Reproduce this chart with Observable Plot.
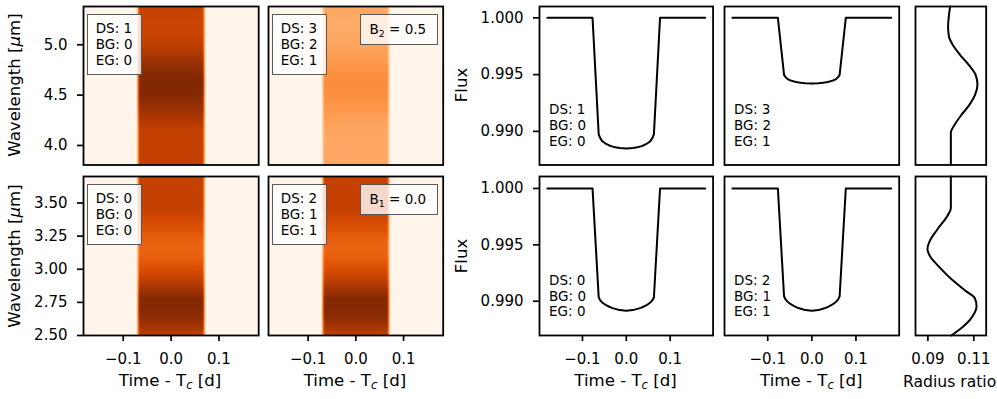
<!DOCTYPE html>
<html><head><meta charset="utf-8">
<script src="https://cdn.jsdelivr.net/npm/d3@7"></script>
<script src="https://cdn.jsdelivr.net/npm/@observablehq/plot@0.6"></script>
<style>
body{margin:0;background:#fff;}
#fig{position:relative;width:997px;height:399px;overflow:hidden;background:#fff;font-family:"DejaVu Sans",sans-serif;color:#000;}
.lab{position:absolute;font-size:16.6px;line-height:20px;white-space:nowrap;}
.lab sub{font-size:70%;line-height:0;vertical-align:-0.3em;}
.rot{transform:translate(-50%,-50%) rotate(-90deg);}
.box{position:absolute;box-sizing:border-box;border:1.5px solid rgba(50,50,50,0.8);background:rgba(255,255,255,0.8);font-size:13.5px;line-height:16px;white-space:pre;}
.box sub{font-size:70%;line-height:0;vertical-align:-0.3em;}
</style></head><body><div id="fig"></div>
<script>
// ---------- data ----------
const timeTicks = [-0.1, 0.0, 0.1];
const waveTicksTop = [4.0, 4.5, 5.0];
const waveTicksBottom = [2.50, 2.75, 3.00, 3.25, 3.50];
const fluxTicks = [0.990, 0.995, 1.000];
const radiusTicks = [0.09, 0.11];

// radius-ratio spectra (right column)
const waveTop = [3.81, 4.13, 4.20, 4.30, 4.40, 4.50, 4.60, 4.70, 4.80, 4.90, 5.00, 5.08, 5.18, 5.28, 5.38];
const radiusTop = [0.1000, 0.1000, 0.1015, 0.1045, 0.1080, 0.1105, 0.1116, 0.1108, 0.1078, 0.1040, 0.1008, 0.0992, 0.0988, 0.0991, 0.0997];
const waveBottom = [2.50, 2.56, 2.64, 2.72, 2.78, 2.84, 2.92, 3.02, 3.09, 3.15, 3.22, 3.30, 3.40, 3.46, 3.70];
const radiusBottom = [0.1002, 0.1049, 0.1093, 0.1112, 0.1105, 0.1062, 0.1006, 0.0948, 0.0912, 0.0898, 0.0910, 0.0941, 0.0984, 0.1000, 0.1000];

// in-transit band of the spectral time series (fraction of full depth)
const bandTime = [-0.19, -0.073, -0.066, 0.066, 0.073, 0.19];
const bandFrac = [0, 0, 1, 1, 0, 0];
// depth scaling of each heat map: top-left, top-middle, bottom-left, bottom-middle
const heatScale = [1, 0.5, 1, 1];

// white-light transit curves
const lcTime = [-0.18, -0.077, -0.063, -0.060, -0.055, -0.050, -0.045, -0.040, -0.033, -0.025, -0.015, 0.0, 0.015, 0.025, 0.033, 0.040, 0.045, 0.050, 0.055, 0.060, 0.063, 0.077, 0.18];
const fluxDS1 = [1, 1, 0.98976, 0.98945, 0.98914, 0.98900, 0.98888, 0.98878, 0.98868, 0.98860, 0.98854, 0.98850, 0.98854, 0.98860, 0.98868, 0.98878, 0.98888, 0.98900, 0.98914, 0.98945, 0.98976, 1, 1];
const fluxDS3 = [1, 1, 0.99498, 0.99480, 0.99461, 0.99451, 0.99445, 0.99439, 0.99433, 0.99428, 0.99424, 0.99422, 0.99424, 0.99428, 0.99433, 0.99439, 0.99445, 0.99451, 0.99461, 0.99480, 0.99498, 1, 1];
const fluxDS0 = [1, 1, 0.99035, 0.99011, 0.98989, 0.98975, 0.98963, 0.98953, 0.98941, 0.98932, 0.98921, 0.98915, 0.98921, 0.98932, 0.98941, 0.98953, 0.98963, 0.98975, 0.98989, 0.99011, 0.99035, 1, 1];
const fluxDS2 = [1, 1, 0.99044, 0.99018, 0.98995, 0.98980, 0.98967, 0.98956, 0.98943, 0.98933, 0.98921, 0.98915, 0.98921, 0.98933, 0.98943, 0.98956, 0.98967, 0.98980, 0.98995, 0.99018, 0.99044, 1, 1];

const panelLabels = ["DS: 1\nBG: 0\nEG: 0", "DS: 3\nBG: 2\nEG: 1", "DS: 0\nBG: 0\nEG: 0", "DS: 2\nBG: 1\nEG: 1"];
const bSubs = ["2", "1"];
const bValues = ["0.5", "0.0"];

// ---------- layout ----------
const fig = document.getElementById("fig");
const ML = 62, MR = 8, MT = 6, MB = 42;
const cols = [
  {left: 82.5, w: 175.2}, {left: 267.6, w: 174.7},
  {left: 538.7, w: 173.6}, {left: 724.0, w: 174.7},
  {left: 915.0, w: 70.7}
];
const rows = [{top: 6, h: 158.5}, {top: 176, h: 159}];
const heatX = [-0.183, 0.183], fluxX = [-0.198, 0.198], radX = [0.0846, 0.1154];
const waveDom = [[3.806, 5.38], [2.5, 3.70]];
const fluxDom = [[0.98704, 1.0010], [0.98696, 1.00106]];

function panel(c, r, {xDomain, yDomain, xTicks, xFmt, yTicks, yFmt, marks, color}) {
  const m = [...marks];
  if (xTicks) m.push(Plot.axisX(xTicks, {tickSize: 6, tickPadding: 12, strokeWidth: 1.7, tickFormat: xFmt, label: null, fontSize: 15}));
  if (yTicks) m.push(Plot.axisY(yTicks, {tickSize: 6, tickPadding: 10, strokeWidth: 1.7, tickFormat: yFmt, label: null, fontSize: 15}));
  m.push(Plot.frame({stroke: "black", strokeWidth: 1.8}));
  const opts = {
    width: c.w + ML + MR, height: r.h + MT + MB,
    marginLeft: ML, marginRight: MR, marginTop: MT, marginBottom: MB,
    x: xTicks ? {domain: xDomain} : {domain: xDomain, axis: null},
    y: yTicks ? {domain: yDomain} : {domain: yDomain, axis: null},
    style: {fontFamily: "DejaVu Sans", fontSize: "15px", background: "transparent", overflow: "visible"},
    marks: m
  };
  if (color) opts.color = color;
  const p = Plot.plot(opts);
  p.style.position = "absolute";
  p.style.left = (c.left - ML) + "px";
  p.style.top = (r.top - MT) + "px";
  fig.appendChild(p);
}

function heatData(waves, radii, scale) {
  return d3.cross(waves.map((w, i) => [w, radii[i]]), bandTime.map((t, j) => [t, bandFrac[j]]))
    .map(([[w, rr], [t, f]]) => ({t, w, v: f * rr * rr * scale}));
}
const heatColor = {type: "linear", scheme: "oranges", domain: [0, 0.0125]};

// heat maps
const profiles = [[waveTop, radiusTop], [waveBottom, radiusBottom]];
[0, 1].forEach(ri => {
  [0, 1].forEach(ci => {
    const k = ri * 2 + ci;
    const [wv, rd] = profiles[ri];
    panel(cols[ci], rows[ri], {
      xDomain: heatX, yDomain: waveDom[ri],
      xTicks: ri === 1 ? timeTicks : null, xFmt: d3.format(".1f"),
      yTicks: ci === 0 ? (ri === 0 ? waveTicksTop : waveTicksBottom) : null,
      yFmt: d3.format(ri === 0 ? ".1f" : ".2f"),
      color: heatColor,
      marks: [Plot.raster(heatData(wv, rd, heatScale[k]), {x: "t", y: "w", fill: "v", interpolate: "barycentric"})]
    });
    // annotation boxes
    const c = cols[ci], r = rows[ri];
    const b = document.createElement("div");
    b.className = "box";
    b.style.left = (c.left + 4.2) + "px"; b.style.top = (r.top + 8.2) + "px";
    b.style.width = "55.6px"; b.style.height = "61.3px";
    b.style.padding = "5.3px 0 0 8px";
    b.textContent = panelLabels[k];
    fig.appendChild(b);
    if (ci === 1) {
      const bb = document.createElement("div");
      bb.className = "box";
      bb.style.left = (c.left + c.w - 4.6 - 77.7) + "px"; bb.style.top = (r.top + 8.2) + "px";
      bb.style.width = "77.7px"; bb.style.height = "31px";
      bb.style.padding = "6px 0 0 8.5px";
      bb.innerHTML = "B<sub>" + bSubs[ri] + "</sub> = " + bValues[ri];
      fig.appendChild(bb);
    }
  });
});

// light curves
const fluxes = [[fluxDS1, fluxDS3], [fluxDS0, fluxDS2]];
const lcLabels = [[panelLabels[0], panelLabels[1]], [panelLabels[2], panelLabels[3]]];
[0, 1].forEach(ri => {
  [0, 1].forEach(ci => {
    const fl = fluxes[ri][ci];
    const pts = lcTime.map((t, i) => ({t, f: fl[i]}));
    panel(cols[2 + ci], rows[ri], {
      xDomain: fluxX, yDomain: fluxDom[ri],
      xTicks: ri === 1 ? timeTicks : null, xFmt: d3.format(".1f"),
      yTicks: ci === 0 ? fluxTicks : null, yFmt: d3.format(".3f"),
      marks: [
        Plot.line(pts, {x: "t", y: "f", stroke: "black", strokeWidth: 2}),
        Plot.text([lcLabels[ri][ci]], {text: d => d, frameAnchor: "bottom-left", lineAnchor: "bottom", textAnchor: "start", dx: 9.6, dy: -19, fontSize: 13.5, lineHeight: 16 / 13.5, fill: "black"})
      ]
    });
  });
});

// radius ratio
[0, 1].forEach(ri => {
  const [wv, rd] = profiles[ri];
  const pts = wv.map((w, i) => ({w, r: rd[i]}));
  panel(cols[4], rows[ri], {
    xDomain: radX, yDomain: waveDom[ri],
    xTicks: ri === 1 ? radiusTicks : null, xFmt: d3.format(".2f"),
    yTicks: null,
    marks: [Plot.line(pts, {x: "r", y: "w", curve: "monotone-y", stroke: "black", strokeWidth: 2})]
  });
});

// axis titles
function label(html, x, y, mode, size) {
  const d = document.createElement("div");
  d.className = "lab" + (mode === "rot" ? " rot" : "");
  d.innerHTML = html;
  d.style.left = x + "px"; d.style.top = y + "px";
  if (size) d.style.fontSize = size + "px";
  if (mode === "center") d.style.transform = "translateX(-50%)";
  fig.appendChild(d);
}
const timeLabel = "Time - T<sub><i>c</i></sub> [d]";
[0, 1, 2, 3].forEach(ci => label(timeLabel, cols[ci].left + cols[ci].w / 2, 371, "center"));
label("Radius ratio", 903, 371.5, "left", 15.6);
rows.forEach(r => {
  label("Wavelength [<i>μ</i>m]", 14.5, r.top + r.h / 2, "rot");
  label("Flux", 462, r.top + r.h / 2, "rot");
});
</script></body></html>
